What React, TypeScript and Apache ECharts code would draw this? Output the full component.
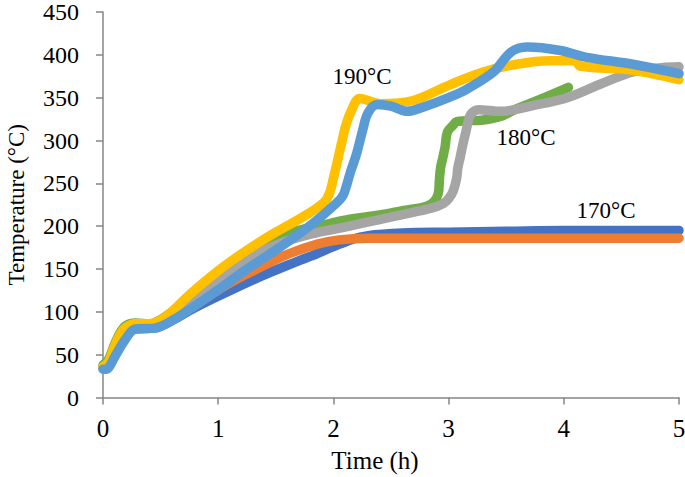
import React, { useEffect, useRef } from "react";
import * as echarts from "echarts";

// 170 °C, run A (dark blue)
const tA170 = [0, 0.05, 0.1, 0.15, 0.2, 0.28, 0.45, 0.6, 0.8, 1.09, 1.38, 1.67, 1.86, 2.0, 2.15, 2.3, 2.6, 3.0, 3.5, 4.0, 4.5, 5.0];
const yA170 = [35, 38, 50, 65, 75, 80, 81, 90, 105, 124, 142, 158, 168, 176, 184, 189, 192, 193, 194, 195, 195, 195];
// 170 °C, run B (orange)
const tB170 = [0, 0.05, 0.1, 0.15, 0.2, 0.28, 0.45, 0.6, 0.8, 1.09, 1.38, 1.6, 1.86, 2.05, 2.3, 2.6, 3.0, 4.0, 5.0];
const yB170 = [35, 38, 52, 67, 76, 81, 82, 92, 108, 133, 153, 167, 179, 184, 186, 186, 186, 186, 186];
// 180 °C, run A (green)
const tA180 = [0, 0.05, 0.1, 0.15, 0.2, 0.28, 0.4, 0.6, 0.8, 1.0, 1.23, 1.5, 1.67, 1.9, 2.1, 2.4, 2.6, 2.8, 2.87, 2.91, 2.92, 2.93, 2.95, 2.97, 2.99, 3.04, 3.07, 3.3, 3.45, 3.59, 3.74, 4.04];
const yA180 = [38, 45, 62, 76, 84, 87, 86, 100, 120, 138, 162, 183, 194, 201, 207, 213, 218, 223, 228, 238, 254, 268, 280, 293, 310, 318, 322, 324, 328, 337, 345, 362];
// 180 °C, run B (grey)
const tB180 = [0, 0.05, 0.1, 0.15, 0.2, 0.28, 0.45, 0.6, 0.8, 1.0, 1.23, 1.52, 1.81, 2.1, 2.41, 2.58, 2.85, 2.95, 3.0, 3.04, 3.07, 3.08, 3.1, 3.12, 3.15, 3.19, 3.26, 3.45, 3.74, 4.03, 4.32, 4.6, 4.85, 5.0];
const yB180 = [35, 38, 52, 68, 76, 81, 82, 95, 115, 135, 160, 179, 191, 199, 208, 213, 221, 226, 232, 241, 256, 268, 280, 293, 310, 330, 336, 334, 341, 350, 366, 380, 385, 386];
// 190 °C, run A (yellow)
const tA190 = [0, 0.05, 0.1, 0.15, 0.2, 0.28, 0.4, 0.55, 0.75, 1.0, 1.25, 1.5, 1.75, 1.92, 1.97, 2.0, 2.02, 2.04, 2.06, 2.08, 2.1, 2.15, 2.23, 2.41, 2.7, 3.01, 3.3, 3.59, 3.88, 4.1, 4.14, 4.6, 5.0];
const yA190 = [36, 42, 60, 74, 82, 86, 86, 95, 120, 148, 172, 193, 212, 228, 240, 256, 267, 279, 291, 302, 314, 333, 349, 343, 347, 365, 380, 389, 393, 393, 387, 382, 371];
// 190 °C, run B (light blue)
const tB190 = [0, 0.02, 0.05, 0.1, 0.19, 0.28, 0.45, 0.65, 0.95, 1.23, 1.52, 1.81, 2.01, 2.08, 2.12, 2.15, 2.2, 2.25, 2.3, 2.38, 2.5, 2.64, 2.8, 3.0, 3.16, 3.39, 3.54, 3.68, 3.97, 4.2, 4.6, 5.0];
const yB190 = [33, 33, 35, 47, 67, 80, 81, 94, 121, 148, 174, 202, 225, 235, 250, 264, 284, 310, 332, 342, 340, 334, 340, 350, 360, 380, 403, 409, 405, 397, 389, 378];

const xTicks = [0, 1, 2, 3, 4, 5];
const yTicks = [0, 50, 100, 150, 200, 250, 300, 350, 400, 450];

const labels = [
  { text: "190°C", x: 362, y: 76 },
  { text: "180°C", x: 526, y: 137 },
  { text: "170°C", x: 606, y: 210 },
];

const FONT = '"Liberation Serif", "Times New Roman", serif';

const zip = (t: number[], y: number[]) => t.map((v, i) => [v, y[i]]);

export default function App() {
  const ref = useRef<HTMLDivElement>(null);
  useEffect(() => {
    const chart = echarts.init(ref.current!, null, { renderer: "svg" });
    const mk = (name: string, color: string, t: number[], y: number[]) => ({
      name,
      type: "line",
      data: zip(t, y),
      smooth: 0.35,
      showSymbol: false,
      symbol: "none",
      lineStyle: { color, width: 9.5, cap: "round", join: "round" },
      itemStyle: { color },
    });
    chart.setOption({
      animation: false,
      backgroundColor: "#ffffff",
      grid: { left: 103, right: 6, top: 12, bottom: 79.5, containLabel: false, outerBoundsMode: "none" },
      xAxis: {
        type: "value",
        min: 0,
        max: 5,
        interval: 1,
        name: "Time (h)",
        nameLocation: "middle",
        nameGap: 50,
        nameTextStyle: { fontFamily: FONT, fontSize: 25, color: "#000", padding: [0, 32, 0, 0] },
        axisLine: { show: true, lineStyle: { color: "#868686", width: 1.5 } },
        axisTick: { show: true, inside: false, length: 7, lineStyle: { color: "#868686", width: 1.5 } },
        axisLabel: {
          fontFamily: FONT, fontSize: 25, color: "#000", margin: 18,
          formatter: (v: number) => (xTicks.includes(v) ? String(v) : ""),
        },
        splitLine: { show: false },
      },
      yAxis: {
        type: "value",
        min: 0,
        max: 450,
        interval: 50,
        name: "Temperature (°C)",
        nameLocation: "middle",
        nameGap: 76,
        nameRotate: 90,
        nameTextStyle: { fontFamily: FONT, fontSize: 23, color: "#000", lineHeight: 22 },
        axisLine: { show: true, lineStyle: { color: "#868686", width: 1.5 } },
        axisTick: { show: true, inside: false, length: 7, lineStyle: { color: "#868686", width: 1.5 } },
        axisLabel: {
          fontFamily: FONT, fontSize: 24, color: "#000", margin: 24, lineHeight: 20,
          formatter: (v: number) => (yTicks.includes(v) ? String(v) : ""),
        },
        splitLine: { show: false },
      },
      series: [
        mk("170°C A", "#4472C4", tA170, yA170),
        mk("170°C B", "#ED7D31", tB170, yB170),
        mk("180°C A", "#70AD47", tA180, yA180),
        mk("180°C B", "#A5A5A5", tB180, yB180),
        mk("190°C A", "#FFC000", tA190, yA190),
        mk("190°C B", "#5B9BD5", tB190, yB190),
      ],
      graphic: labels.map((l) => ({
        type: "text",
        x: l.x,
        y: l.y,
        z: 100,
        style: {
          text: l.text,
          fontFamily: FONT,
          fontSize: 23,
          fill: "#000",
          textAlign: "center",
          textVerticalAlign: "middle",
        },
      })),
    });
    return () => chart.dispose();
  }, []);
  return (
    <div
      ref={ref}
      style={{ position: "fixed", left: 0, top: 0, width: 685, height: 477, background: "#fff" }}
    />
  );
}
